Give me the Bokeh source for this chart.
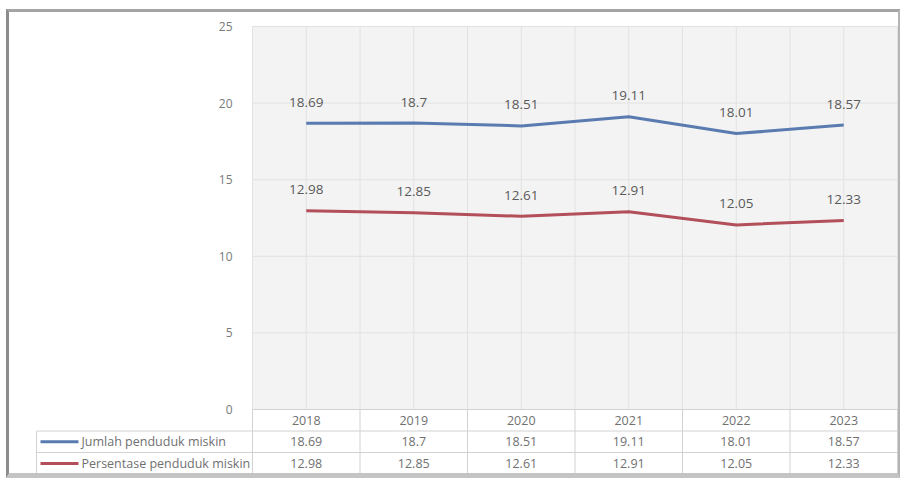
from bokeh.plotting import figure
from bokeh.models import Range1d, FixedTicker, ColumnDataSource
from bokeh.embed import file_html
from bokeh.resources import INLINE
from bokeh.core.properties import value

# ---- data ----
years = ["2018", "2019", "2020", "2021", "2022", "2023"]
jumlah = [18.69, 18.7, 18.51, 19.11, 18.01, 18.57]
persen = [12.98, 12.85, 12.61, 12.91, 12.05, 12.33]
series_names = ["Jumlah penduduk miskin", "Persentase penduduk miskin"]
y_ticks = [0, 5, 10, 15, 20, 25]

FONT = "Open Sans"
BLUE = "#5a7bb0"
RED = "#b24f5a"
GRID = "#e2e2e2"
TBL = "#d2d2d2"

n = len(years)
xs = list(range(n))
x_lo, x_hi = -0.5, n - 0.5
y_max = y_ticks[-1]

# page geometry (px): plot area x 252..897, y(25)=26, y(0)=409
PX_L, PX_R = 252, 897
PY_TOP, PY_ZERO = 26, 409
BL, BT, BR, BB = 3, 3, 2, 5    # border widths
ML, MT = 6, 9                  # margins
ORG_X, ORG_Y = ML + BL, MT + BT  # canvas origin on the page
W, H = 894, 469                # canvas size (box is border-box, clipped)
MBL = 23
cat_px = (PX_R - PX_L) / n
unit_px = (PY_ZERO - PY_TOP) / y_max
frame_left = ORG_X + MBL
frame_right = ORG_X + W
frame_top = ORG_Y
frame_bottom = ORG_Y + H

leg_left = x_lo - (PX_L - 36) / cat_px
rows = [0, -21.5 / unit_px, -43 / unit_px, -65 / unit_px]

p = figure(width=W, height=H, output_backend="svg", toolbar_location=None,
           x_range=Range1d(x_lo - (PX_L - frame_left) / cat_px, x_hi + (frame_right - PX_R) / cat_px),
           y_range=Range1d(-(frame_bottom - PY_ZERO) / unit_px, y_max + (PY_TOP - frame_top) / unit_px),
           x_axis_location=None,
           min_border_left=MBL, min_border_right=0, min_border_top=0, min_border_bottom=0)
p.styles = {"margin-left": f"{ML}px", "margin-top": f"{MT}px",
            "border-left": f"{BL}px solid #8c8c8c", "border-top": f"{BT}px solid #a4a4a4",
            "border-right": f"{BR}px solid #b4b4b4", "border-bottom": f"{BB}px solid #c4c4c4"}
p.outline_line_color = None
p.background_fill_color = "white"
p.border_fill_color = "white"
p.xgrid.visible = False
p.ygrid.visible = False

# y axis drawn at the left edge of the plot area
yax = p.yaxis[0]
yax.ticker = FixedTicker(ticks=y_ticks)
yax.fixed_location = x_lo
yax.axis_line_color = None
yax.major_tick_line_color = None
yax.minor_tick_line_color = None
yax.major_label_standoff = 14
yax.major_label_text_font = FONT
yax.major_label_text_font_size = "12px"
yax.major_label_text_color = "#7a7a7a"

# plot area background and grid
p.quad(left=x_lo, right=x_hi, bottom=0, top=y_max, fill_color="#f3f3f3", line_color=None)
grid_x = [x_lo + 0.5 * i for i in range(2 * n + 1)]
p.segment(x0=grid_x, y0=[0] * len(grid_x), x1=grid_x, y1=[y_max] * len(grid_x),
          line_color=GRID, line_width=1)
p.segment(x0=[x_lo] * len(y_ticks), y0=y_ticks, x1=[x_hi] * len(y_ticks), y1=y_ticks,
          line_color=GRID, line_width=1)

# series lines
src = ColumnDataSource(dict(x=xs, year=years, j=jumlah, p=persen,
                            jl=[f"{v:g}" for v in jumlah],
                            pl=[f"{v:g}" for v in persen]))
p.line("x", "j", source=src, line_color=BLUE, line_width=3)
p.line("x", "p", source=src, line_color=RED, line_width=3)

# data labels
for col, lab in (("j", "jl"), ("p", "pl")):
    p.text("x", col, text=lab, source=src, text_align="center", text_baseline="middle",
           y_offset=-21, text_font=value(FONT), text_font_size="13.5px", text_color="#5a5a5a")

# ---- data table ----
p.segment(x0=[x_lo], y0=[rows[0]], x1=[x_hi], y1=[rows[0]], line_color=TBL)
p.segment(x0=[leg_left] * 3, y0=rows[1:], x1=[x_hi] * 3, y1=rows[1:], line_color=TBL)
vx = [x_lo + i for i in range(n + 1)]
p.segment(x0=vx, y0=[rows[0]] * len(vx), x1=vx, y1=[rows[3]] * len(vx), line_color=TBL)
p.segment(x0=[leg_left], y0=[rows[1]], x1=[leg_left], y1=[rows[3]], line_color=TBL)

centers = [(rows[i] + rows[i + 1]) / 2 for i in range(3)]
tsrc = ColumnDataSource(dict(x=xs, year=years,
                             jl=[f"{v:g}" for v in jumlah],
                             pl=[f"{v:g}" for v in persen],
                             y0=[centers[0]] * n, y1=[centers[1]] * n, y2=[centers[2]] * n))
for ycol, tcol in (("y0", "year"), ("y1", "jl"), ("y2", "pl")):
    p.text("x", ycol, text=tcol, source=tsrc, text_align="center", text_baseline="middle",
           text_font=value(FONT), text_font_size="12.5px", text_color="#707070")

# legend keys inside the table
key_x0 = x_lo - (PX_L - 40) / cat_px
key_x1 = x_lo - (PX_L - 78) / cat_px
key_tx = x_lo - (PX_L - 81) / cat_px
p.segment(x0=[key_x0] * 2, y0=centers[1:], x1=[key_x1] * 2, y1=centers[1:],
          line_color=[BLUE, RED], line_width=3)
p.text(x=[key_tx] * 2, y=centers[1:], text=series_names, text_align="left",
       text_baseline="middle", text_font=value(FONT), text_font_size="12.5px",
       text_color="#707070")

open("out.html", "w").write(file_html(p, INLINE))
